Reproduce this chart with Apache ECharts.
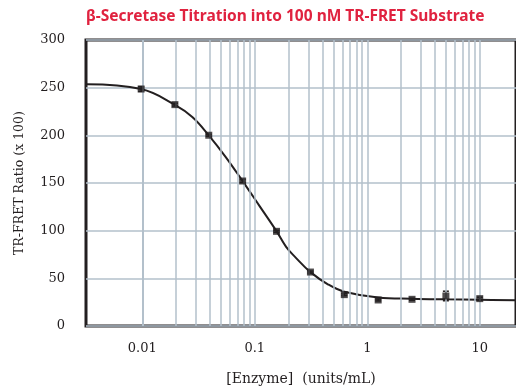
<!DOCTYPE html>
<html>
<head>
<meta charset="utf-8">
<title>β-Secretase Titration</title>
<script src="https://cdn.jsdelivr.net/npm/echarts@6/dist/echarts.min.js"></script>
<style>
  html, body { margin: 0; padding: 0; background: #fff; }
  #chart { width: 516px; height: 391px; }
</style>
</head>
<body>
<div id="chart"></div>
<script>
  // measured points (2-fold dilution series of enzyme, units/mL)
  var enzyme = [0.00977, 0.0195, 0.039, 0.078, 0.156, 0.3125, 0.625, 1.25, 2.5, 5, 10];
  var ratio = [248.6, 232.2, 200.1, 152.1, 99.3, 56.6, 32.9, 27.3, 28.0, 31.5, 28.7];
  var ratioErr = [2.5, 1.5, 1, 1.5, 1, 1, 1, 1, 1, 5, 1.5];

  // fitted curve
  var fitX = [0.0032, 0.00977, 0.0195, 0.028, 0.039, 0.055, 0.078, 0.11, 0.156, 0.19, 0.23, 0.3125, 0.45, 0.625, 1.25, 2.5, 5, 10, 21];
  var fitY = [253.5, 248.5, 232, 219, 200, 177.5, 152, 126, 99.5, 83, 72, 56.5, 43.5, 36, 30, 28.7, 28, 27.5, 27];

  // log grid lines
  var gridLinesX = [0.004, 0.005, 0.006, 0.007, 0.008, 0.009, 0.01,
    0.02, 0.03, 0.04, 0.05, 0.06, 0.07, 0.08, 0.09, 0.1,
    0.2, 0.3, 0.4, 0.5, 0.6, 0.7, 0.8, 0.9, 1,
    2, 3, 4, 5, 6, 7, 8, 9, 10];
  var xTickLabels = ['0.01', '0.1', '1', '10'];

  var ink = '#231f20';
  var gridColor = '#b3c0cb';
  var serif = 'DejaVu Serif';

  var chart = echarts.init(document.getElementById('chart'));

  chart.setOption({
    animation: false,
    title: {
      text: 'β-Secretase Titration into 100 nM TR-FRET Substrate',
      left: 86,
      top: 9,
      padding: 0,
      textStyle: {color: '#e0223f', fontFamily: 'Noto Sans', fontWeight: 'bold', fontSize: 15.5}
    },
    grid: {
      left: 86, top: 40, right: -3, bottom: 63.5,
      show: true, borderColor: ink, borderWidth: 3
    },
    xAxis: {
      type: 'log',
      logBase: 10,
      min: 0.00316,
      max: 21,
      name: '[Enzyme]  (units/mL)',
      nameLocation: 'middle',
      nameGap: 46,
      nameTextStyle: {color: ink, fontFamily: serif, fontSize: 14},
      axisLine: {show: false},
      axisTick: {show: false},
      splitLine: {show: false},
      axisLabel: {
        color: ink, fontFamily: serif, fontSize: 13, margin: 16,
        showMinLabel: false, showMaxLabel: false,
        formatter: function (v) {
          var lab = String(+v.toPrecision(3));
          return xTickLabels.indexOf(lab) >= 0 ? lab : '';
        }
      }
    },
    yAxis: {
      type: 'value',
      min: 0,
      max: 300,
      interval: 50,
      name: 'TR-FRET Ratio (x 100)',
      nameLocation: 'middle',
      nameGap: 60,
      nameTextStyle: {color: ink, fontFamily: serif, fontSize: 12.5},
      axisLine: {show: false},
      axisTick: {show: false},
      axisLabel: {color: ink, fontFamily: serif, fontSize: 13, margin: 21},
      splitLine: {lineStyle: {color: gridColor, width: 1.5}}
    },
    series: [
      {
        name: 'grid',
        type: 'line',
        data: [],
        silent: true,
        z: 1,
        markLine: {
          silent: true,
          symbol: ['none', 'none'],
          label: {show: false},
          lineStyle: {color: gridColor, width: 1.5, type: 'solid'},
          data: gridLinesX.map(function (v) { return {xAxis: v}; })
        }
      },
      {
        name: 'fit',
        type: 'line',
        smooth: 0.4,
        showSymbol: false,
        z: 3,
        lineStyle: {color: ink, width: 2},
        data: fitX.map(function (x, i) { return [x, fitY[i]]; })
      },
      {
        name: 'error',
        type: 'custom',
        z: 4,
        data: enzyme.map(function (x, i) { return [x, ratio[i], ratioErr[i]]; }),
        renderItem: function (params, api) {
          var x = api.value(0), y = api.value(1), e = api.value(2);
          var top = api.coord([x, y + e]);
          var bot = api.coord([x, y - e]);
          var w = 3;
          var style = {stroke: ink, lineWidth: 1.5};
          return {
            type: 'group',
            children: [
              {type: 'line', shape: {x1: top[0], y1: top[1], x2: bot[0], y2: bot[1]}, style: style},
              {type: 'line', shape: {x1: top[0] - w, y1: top[1], x2: top[0] + w, y2: top[1]}, style: style},
              {type: 'line', shape: {x1: bot[0] - w, y1: bot[1], x2: bot[0] + w, y2: bot[1]}, style: style}
            ]
          };
        }
      },
      {
        name: 'data',
        type: 'scatter',
        symbol: 'rect',
        symbolSize: 7,
        z: 5,
        itemStyle: {color: ink},
        data: enzyme.map(function (x, i) { return [x, ratio[i]]; })
      }
    ]
  });
</script>
</body>
</html>
